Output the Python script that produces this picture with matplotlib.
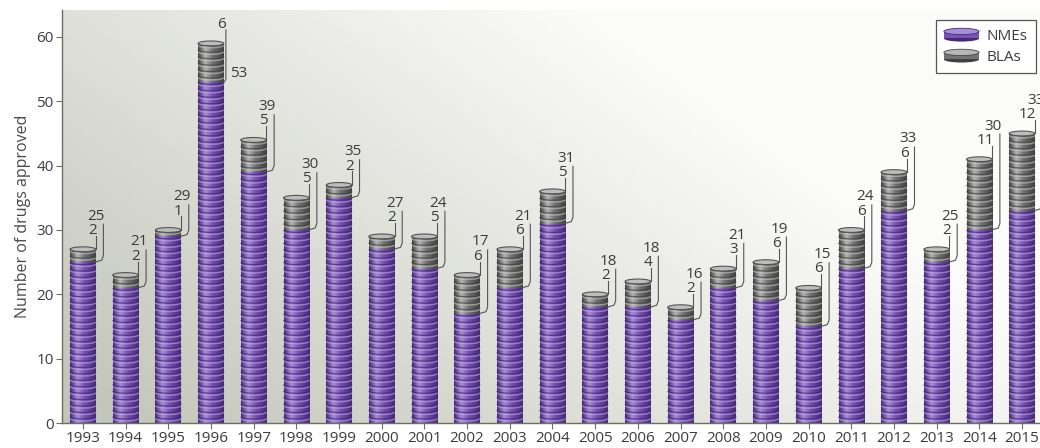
import numpy as np
import matplotlib.pyplot as plt
from matplotlib.patches import Rectangle, Ellipse, Arc
from matplotlib.colors import LinearSegmentedColormap, to_rgb
from matplotlib.legend_handler import HandlerBase

plt.rcParams['font.family'] = ['Open Sans', 'DejaVu Sans']

# FDA 新药批准数量：NMEs 与 BLAs
years = list(range(1993, 2016))
nmes = [25, 21, 29, 53, 39, 30, 35, 27, 24, 17, 21, 31, 18, 18, 16, 21, 19, 15, 24, 33, 25, 30, 33]
blas = [2, 2, 1, 6, 5, 5, 2, 2, 5, 6, 6, 5, 2, 4, 2, 3, 6, 6, 6, 6, 2, 11, 12]

yticks = [0, 10, 20, 30, 40, 50, 60]

# 圆柱体配色：暗边、主体、高光、硬币边线
purple = dict(dark='#452878', mid='#7853b2', light='#a88ed8', edge='#48297c', ring='#c0aee6')
grey = dict(dark='#404040', mid='#737373', light='#b6b6b6', edge='#454545', ring='#cacaca')

W = 0.6          # 柱宽
CH = 0.75        # 硬币椭圆的高度（数据单位）
TXT = '#3c3c3c'
LINE = '#555555'
FS = 11


def cyl_cmap(c):
    return LinearSegmentedColormap.from_list(
        'cyl', [(0, c['dark']), (0.28, c['light']), (0.55, c['mid']), (1, c['dark'])])


def draw_stack(ax, x, y0, y1, c, zorder):
    grad = np.linspace(0, 1, 64).reshape(1, -1)
    ax.imshow(grad, cmap=cyl_cmap(c), extent=[x - W / 2, x + W / 2, y0, y1],
              aspect='auto', interpolation='bicubic', zorder=zorder)
    # 每一枚硬币一条弧线
    for k in range(int(y0) + 1, int(y1) + 1):
        ax.add_patch(Arc((x, k - 0.3), W, CH, theta1=180, theta2=360,
                         color=c['ring'], lw=1.1, alpha=0.55, zorder=zorder + 0.1))
        ax.add_patch(Arc((x, k), W, CH, theta1=180, theta2=360,
                         color=c['edge'], lw=0.9, alpha=0.75, zorder=zorder + 0.2))


class CoinHandler(HandlerBase):
    def __init__(self, c):
        super().__init__()
        self.c = c

    def create_artists(self, legend, orig_handle, xdescent, ydescent,
                       width, height, fontsize, trans):
        x0, y0 = -xdescent, -ydescent
        h = height
        arts = [
            Ellipse((x0 + width / 2, y0 + 0.2 * h), width, 0.5 * h,
                    facecolor=self.c['dark'], edgecolor='none'),
            Rectangle((x0, y0 + 0.2 * h), width, 0.55 * h,
                      facecolor=self.c['mid'], edgecolor='none'),
            Ellipse((x0 + width / 2, y0 + 0.75 * h), width, 0.5 * h,
                    facecolor=self.c['light'], edgecolor=self.c['edge'], lw=0.6),
        ]
        for a in arts:
            a.set_transform(trans)
        return arts


fig = plt.figure(figsize=(10.4, 4.48), dpi=100)
ax = fig.add_axes([0.0596, 0.0558, 0.9404, 0.922])
YTOP = 64.2

# 背景：左下灰，右上白的渐变
gx, gy = np.meshgrid(np.linspace(0, 1, 200), np.linspace(0, 1, 100))
t = np.clip(0.95 * gx + 0.55 * gy - 0.05, 0, 1)
c0 = np.array(to_rgb('#c3c6ba'))
c1 = np.array(to_rgb('#fbfbfa'))
bg = c0 + (c1 - c0) * t[..., None]
ax.imshow(bg, extent=[0, 1, 0, 1], transform=ax.transAxes, aspect='auto',
          origin='lower', zorder=0)

for x, n, b in zip(years, nmes, blas):
    top = n + b
    draw_stack(ax, x, 0, n, purple, 2)
    draw_stack(ax, x, n, top, grey, 3)
    ax.add_patch(Ellipse((x, top), W, CH, facecolor='#bdbdbd',
                         edgecolor='#555555', lw=0.8, zorder=3.5))

    xe = x + W / 2
    xl = xe + 0.18
    # BLA 标注
    ax.text(xe + 0.04, top + 2.4, str(b), ha='right', va='baseline',
            fontsize=FS, color=TXT, zorder=5, clip_on=False)
    if top + 6 > YTOP:
        # 太高时 NME 标注放在柱子旁边
        ax.plot([xe - 0.02, xe + 0.05, xe + 0.05], [n - 0.3, n + 0.4, top + 2.1],
                color=LINE, lw=0.8, zorder=5)
        ax.text(xe + 0.14, n + 0.8, str(n), ha='left', va='baseline',
                fontsize=FS, color=TXT, zorder=5)
    else:
        ax.plot([xe, xe], [top, top + 2.1], color=LINE, lw=0.8, zorder=5)
        ax.plot([xe - 0.02, xl - 0.04, xl, xl], [n, n + 0.3, n + 1.0, top + 3.9],
                color=LINE, lw=0.8, zorder=5, clip_on=False)
        ax.text(xl + 0.04, top + 4.6, str(n), ha='right', va='baseline',
                fontsize=FS, color=TXT, zorder=5, clip_on=False)

ax.set_xlim(1992.51, 2015.42)
ax.set_ylim(0, YTOP)
ax.set_xticks(years)
ax.set_yticks(yticks)
ax.tick_params(axis='both', labelsize=FS, colors=TXT, length=4, width=0.8,
               direction='out', pad=2)
ax.tick_params(axis='both', color='#6b6f5e')
for s in ['top', 'right']:
    ax.spines[s].set_visible(False)
for s in ['left', 'bottom']:
    ax.spines[s].set_color('#6b6f5e')
    ax.spines[s].set_linewidth(1.0)
ax.set_ylabel('Number of drugs approved', fontsize=11.5, color='#4a4a4a', labelpad=4)

h1 = Rectangle((0, 0), 1, 1)
h2 = Rectangle((0, 0), 1, 1)
leg = ax.legend([h1, h2], ['NMEs', 'BLAs'], loc='upper right',
                bbox_to_anchor=(0.996, 0.976), borderaxespad=0, fontsize=FS,
                handler_map={h1: CoinHandler(purple), h2: CoinHandler(grey)},
                fancybox=False, framealpha=1, edgecolor='#555555',
                handlelength=2.3, handleheight=0.9, handletextpad=0.5,
                labelspacing=0.35, borderpad=0.55)
leg.get_frame().set_linewidth(0.9)
for txt in leg.get_texts():
    txt.set_color(TXT)

fig.savefig('out.png', dpi=100)
